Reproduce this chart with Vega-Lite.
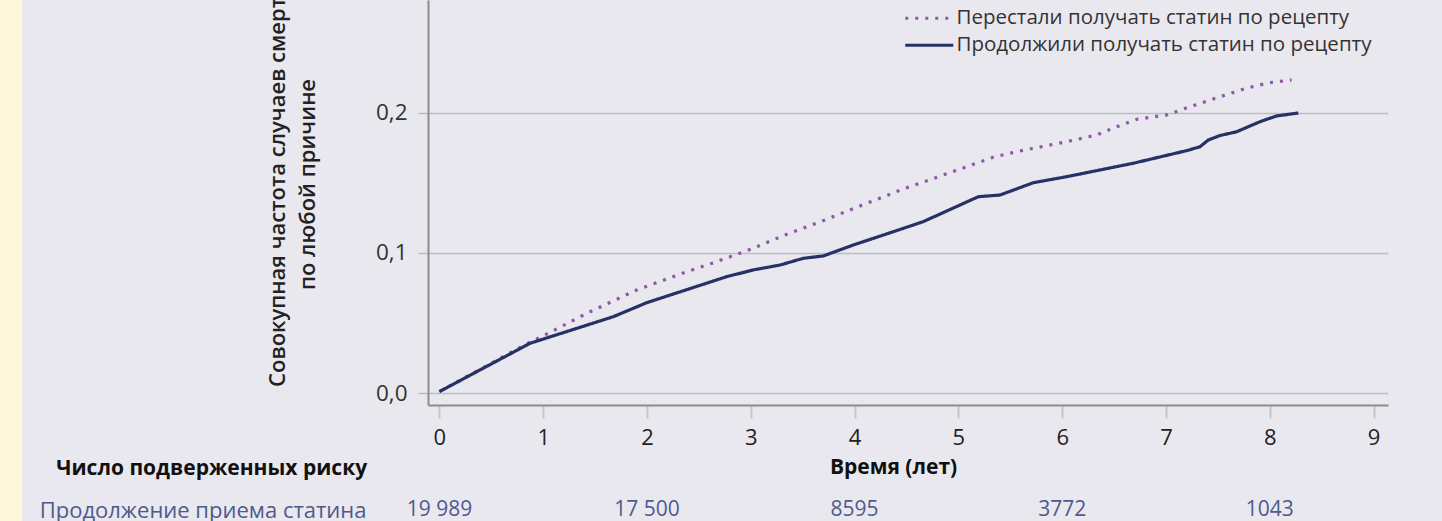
{
  "$schema": "https://vega.github.io/schema/vega-lite/v6.json",
  "background": "#e9e8ef",
  "padding": {"left": 0, "top": -19, "right": 54, "bottom": 0},
  "config": {
    "font": "Open Sans",
    "view": {"stroke": null},
    "title": {"font": "Open Sans"},
    "axis": {"labelFont": "Open Sans", "titleFont": "Open Sans"},
    "legend": {"labelFont": "Open Sans"}
  },
  "datasets": {
    "curves": [
      {"group": "Перестали получать статин по рецепту", "years": 0.0, "incidence": 0.001},
      {"group": "Перестали получать статин по рецепту", "years": 0.872, "incidence": 0.0364},
      {"group": "Перестали получать статин по рецепту", "years": 0.985, "incidence": 0.0402},
      {"group": "Перестали получать статин по рецепту", "years": 1.419, "incidence": 0.0569},
      {"group": "Перестали получать статин по рецепту", "years": 1.901, "incidence": 0.0736},
      {"group": "Перестали получать статин по рецепту", "years": 2.382, "incidence": 0.0866},
      {"group": "Перестали получать статин по рецепту", "years": 2.671, "incidence": 0.0938},
      {"group": "Перестали получать статин по рецепту", "years": 3.024, "incidence": 0.1034},
      {"group": "Перестали получать статин по рецепту", "years": 3.329, "incidence": 0.1129},
      {"group": "Перестали получать статин по рецепту", "years": 3.715, "incidence": 0.1236},
      {"group": "Перестали получать статин по рецепту", "years": 4.1, "incidence": 0.135},
      {"group": "Перестали получать статин по рецепту", "years": 4.469, "incidence": 0.1457},
      {"group": "Перестали получать статин по рецепту", "years": 4.855, "incidence": 0.1557},
      {"group": "Перестали получать статин по рецепту", "years": 5.336, "incidence": 0.1684},
      {"group": "Перестали получать статин по рецепту", "years": 5.562, "incidence": 0.1724},
      {"group": "Перестали получать статин по рецепту", "years": 6.043, "incidence": 0.1795},
      {"group": "Перестали получать статин по рецепту", "years": 6.332, "incidence": 0.1843},
      {"group": "Перестали получать статин по рецепту", "years": 6.525, "incidence": 0.1902},
      {"group": "Перестали получать статин по рецепту", "years": 6.718, "incidence": 0.1955},
      {"group": "Перестали получать статин по рецепту", "years": 7.007, "incidence": 0.1986},
      {"group": "Перестали получать статин по рецепту", "years": 7.205, "incidence": 0.2038},
      {"group": "Перестали получать статин по рецепту", "years": 7.504, "incidence": 0.2112},
      {"group": "Перестали получать статин по рецепту", "years": 7.793, "incidence": 0.2181},
      {"group": "Перестали получать статин по рецепту", "years": 7.995, "incidence": 0.2216},
      {"group": "Перестали получать статин по рецепту", "years": 8.21, "incidence": 0.2236},
      {"group": "Продолжили получать статин по рецепту", "years": 0.0, "incidence": 0.001},
      {"group": "Продолжили получать статин по рецепту", "years": 0.873, "incidence": 0.0355},
      {"group": "Продолжили получать статин по рецепту", "years": 1.675, "incidence": 0.0545},
      {"group": "Продолжили получать статин по рецепту", "years": 1.997, "incidence": 0.0645},
      {"group": "Продолжили получать статин по рецепту", "years": 2.768, "incidence": 0.0831},
      {"group": "Продолжили получать статин по рецепту", "years": 3.024, "incidence": 0.0879},
      {"group": "Продолжили получать статин по рецепту", "years": 3.281, "incidence": 0.0914},
      {"group": "Продолжили получать статин по рецепту", "years": 3.506, "incidence": 0.0962},
      {"group": "Продолжили получать статин по рецепту", "years": 3.699, "incidence": 0.0979},
      {"group": "Продолжили получать статин по рецепту", "years": 3.987, "incidence": 0.1057},
      {"group": "Продолжили получать статин по рецепту", "years": 4.373, "incidence": 0.1152},
      {"group": "Продолжили получать статин по рецепту", "years": 4.662, "incidence": 0.1224},
      {"group": "Продолжили получать статин по рецепту", "years": 5.192, "incidence": 0.1402},
      {"group": "Продолжили получать статин по рецепту", "years": 5.401, "incidence": 0.1414},
      {"group": "Продолжили получать статин по рецепту", "years": 5.722, "incidence": 0.1502},
      {"group": "Продолжили получать статин по рецепту", "years": 6.043, "incidence": 0.1545},
      {"group": "Продолжили получать статин по рецепту", "years": 6.685, "incidence": 0.1641},
      {"group": "Продолжили получать статин по рецепту", "years": 7.199, "incidence": 0.1731},
      {"group": "Продолжили получать статин по рецепту", "years": 7.328, "incidence": 0.1759},
      {"group": "Продолжили получать статин по рецепту", "years": 7.408, "incidence": 0.1807},
      {"group": "Продолжили получать статин по рецепту", "years": 7.52, "incidence": 0.1839},
      {"group": "Продолжили получать статин по рецепту", "years": 7.681, "incidence": 0.1866},
      {"group": "Продолжили получать статин по рецепту", "years": 7.906, "incidence": 0.1938},
      {"group": "Продолжили получать статин по рецепту", "years": 8.066, "incidence": 0.1979},
      {"group": "Продолжили получать статин по рецепту", "years": 8.275, "incidence": 0.2}
    ],
    "risk": [
      {"row": "Продолжение приема статина", "years": 0, "at_risk": "19 989"},
      {"row": "Продолжение приема статина", "years": 2, "at_risk": "17 500"},
      {"row": "Продолжение приема статина", "years": 4, "at_risk": "8595"},
      {"row": "Продолжение приема статина", "years": 6, "at_risk": "3772"},
      {"row": "Продолжение приема статина", "years": 8, "at_risk": "1043"}
    ]
  },
  "bounds": "flush",
  "spacing": 406,
  "hconcat": [
    {
      "width": 22,
      "height": 540,
      "view": {"fill": "#fef7da", "stroke": null},
      "data": {"values": [{}]},
      "mark": {"type": "rect", "opacity": 0},
      "encoding": {}
    },
    {
      "bounds": "flush",
      "spacing": 88,
      "resolve": {"scale": {"color": "independent", "strokeDash": "independent"}},
      "vconcat": [
        {
          "width": 960,
          "height": 405,
          "data": {"name": "curves"},
          "mark": {"type": "line", "strokeWidth": 3.2, "strokeCap": "butt"},
          "encoding": {
            "x": {
              "field": "years",
              "type": "quantitative",
              "scale": {"domain": [-0.11, 9.139], "nice": false, "zero": false},
              "axis": {
                "values": [0, 1, 2, 3, 4, 5, 6, 7, 8, 9],
                "title": "Время (лет)",
                "titleX": 465,
                "grid": false,
                "domainColor": "#8c8c90",
                "domainWidth": 2,
                "tickColor": "#c6c6ca",
                "tickWidth": 2,
                "tickSize": 13,
                "labelFontSize": 22,
                "labelColor": "#222222",
                "labelPadding": 9,
                "titleFontSize": 21,
                "titleFontWeight": "bold",
                "titleColor": "#111111",
                "titlePadding": 8
              }
            },
            "y": {
              "field": "incidence",
              "type": "quantitative",
              "scale": {"domain": [-0.00857, 0.2807], "nice": false, "zero": false},
              "axis": {
                "values": [0, 0.1, 0.2],
                "labelExpr": "replace(format(datum.value, '.1f'), '.', ',')",
                "title": ["Совокупная частота случаев смерти", "по любой причине"],
                "titleFontSize": 22,
                "titleFontWeight": 600,
                "titleColor": "#222222",
                "titleLineHeight": 30,
                "titlePadding": 56,
                "titleY": 184,
                "grid": true,
                "gridColor": "#bdbdc1",
                "gridWidth": 1.5,
                "domainColor": "#8c8c90",
                "domainWidth": 2,
                "tickColor": "#bdbdc1",
                "tickWidth": 1.5,
                "tickSize": 10,
                "labelFontSize": 22.5,
                "labelColor": "#333333",
                "labelPadding": 11
              }
            },
            "color": {
              "field": "group",
              "type": "nominal",
              "scale": {
                "domain": ["Перестали получать статин по рецепту", "Продолжили получать статин по рецепту"],
                "range": ["#8e58a8", "#263265"]
              },
              "legend": {
                "title": null,
                "orient": "none",
                "legendX": 491,
                "legendY": 8,
                "padding": 0,
                "symbolType": "M-4,0L4,0",
                "symbolSize": 144,
                "symbolStrokeWidth": 3.2,
                "labelFontSize": 20.5,
                "labelColor": "#333333",
                "labelOffset": 17,
                "rowPadding": 6,
                "labelLimit": 0
              }
            },
            "strokeDash": {
              "field": "group",
              "type": "nominal",
              "scale": {
                "domain": ["Перестали получать статин по рецепту", "Продолжили получать статин по рецепту"],
                "range": [[3, 7], [1, 0]]
              }
            }
          }
        },
        {
          "width": 960,
          "height": 34,
          "data": {"name": "risk"},
          "title": {
            "text": "Число подверженных риску",
            "anchor": "start",
            "frame": "bounds",
            "fontSize": 21,
            "fontWeight": "bold",
            "color": "#111111",
            "dx": 17,
            "offset": 14
          },
          "mark": {"type": "text", "fontSize": 21, "color": "#4e5a8c"},
          "encoding": {
            "x": {
              "field": "years",
              "type": "quantitative",
              "scale": {"domain": [-0.11, 9.139], "nice": false, "zero": false},
              "axis": null
            },
            "y": {
              "field": "row",
              "type": "nominal",
              "axis": {
                "title": null,
                "domain": false,
                "ticks": false,
                "grid": false,
                "labelPadding": 62,
                "labelFontSize": 22,
                "labelColor": "#4e5a8c",
                "labelLimit": 0
              }
            },
            "text": {"field": "at_risk"}
          }
        }
      ]
    }
  ]
}
